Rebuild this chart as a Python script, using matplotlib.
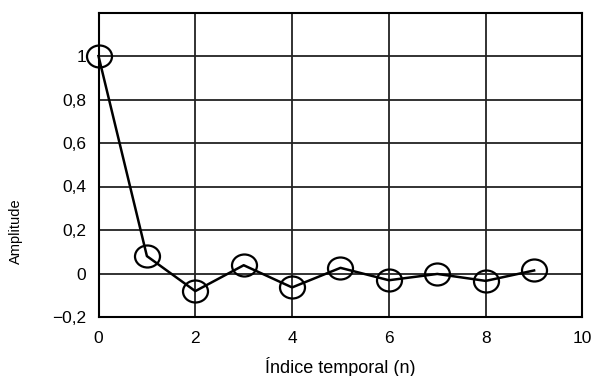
import matplotlib
matplotlib.use("Agg")
import matplotlib.pyplot as plt
from matplotlib.path import Path
from matplotlib.ticker import FuncFormatter

# impulse response values
n = [0, 1, 2, 3, 4, 5, 6, 7, 8, 9]
amplitude = [1.0, 0.08, -0.081, 0.038, -0.064, 0.026, -0.031, -0.002, -0.034, 0.014]

x_ticks = [0, 2, 4, 6, 8, 10]
y_ticks = [-0.2, 0, 0.2, 0.4, 0.6, 0.8, 1.0]

plt.rcParams["font.family"] = ["Liberation Sans", "DejaVu Sans"]


def comma_fmt(v, _pos):
    s = f"{v:g}".replace(".", ",")
    return s.replace("-", "\u2212")


# the circles in the original are a touch wider than tall
circ = Path.unit_circle()
ellipse = Path(circ.vertices * [1.0, 0.88], circ.codes)

fig = plt.figure(figsize=(5.94, 3.76), dpi=100)
ax = fig.add_axes([98.5 / 594, 1 - 317 / 376, 484 / 594, 304.5 / 376])

ax.plot(n, amplitude, color="black", lw=1.8, marker=ellipse, markersize=18,
        markerfacecolor="none", markeredgecolor="black", markeredgewidth=1.6,
        clip_on=False, zorder=3)

ax.set_xlim(0, 10)
ax.set_ylim(-0.2, 1.2)
ax.set_xticks(x_ticks)
ax.set_yticks(y_ticks)
ax.xaxis.set_major_formatter(FuncFormatter(comma_fmt))
ax.yaxis.set_major_formatter(FuncFormatter(comma_fmt))
ax.tick_params(length=0, labelsize=12.5)
ax.tick_params(axis="x", pad=10)
ax.tick_params(axis="y", pad=9)
ax.grid(True, color="#222222", lw=1.3)
for sp in ax.spines.values():
    sp.set_linewidth(1.5)

ax.set_xlabel("Índice temporal (n)", fontsize=13, va="center")
ax.xaxis.set_label_coords(0.5, -0.164)
# label sits below the axes' middle in the original
ax.set_ylabel("Amplitude", fontsize=10.5, va="center")
ax.yaxis.set_label_coords(-0.17, 0.282)

fig.savefig("out.png", dpi=100)
